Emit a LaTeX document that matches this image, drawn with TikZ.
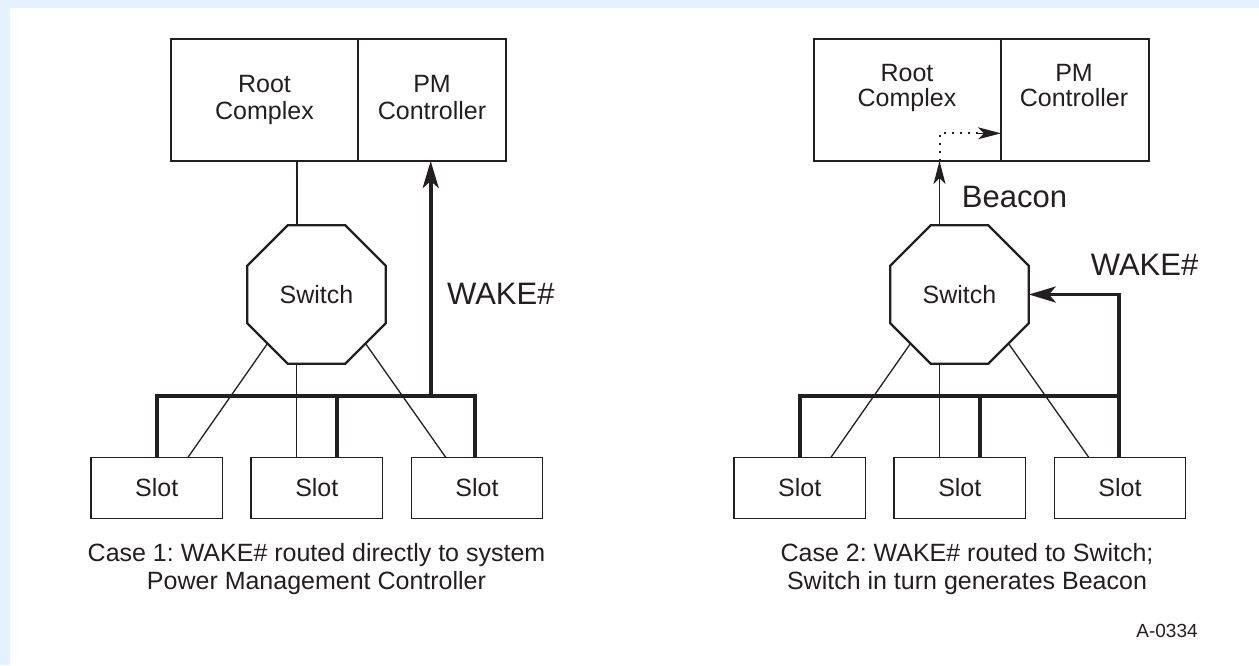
\documentclass[tikz,border=0pt]{standalone}
\usepackage{fontspec}
\setmainfont{Liberation Sans}
\frenchspacing
\usetikzlibrary{shapes.geometric,arrows.meta,calc}
\definecolor{bg}{RGB}{227,242,253}
\definecolor{ink}{RGB}{35,31,32}
\begin{document}
\begin{tikzpicture}[x=1pt,y=-1pt,
  box/.style={draw=ink,line width=1.5pt,inner sep=0pt,outer sep=0pt,font=\fontsize{25}{27}\selectfont,text=ink,align=center},
  slot/.style={box,minimum width=131.4pt,minimum height=60.6pt},
  sw/.style={regular polygon,regular polygon sides=8,draw=ink,line width=2.3pt,minimum size=150pt,inner sep=0pt,outer sep=0pt,font=\fontsize{25}{27}\selectfont,text=ink},
  thin/.style={draw=ink,line width=1.3pt},
  bus/.style={draw=ink,line width=3.6pt},
  dots/.style={draw=ink,line width=2pt,dash pattern=on 2pt off 6pt},
  lbl/.style={font=\fontsize{31}{33}\selectfont,text=ink,inner sep=0pt,anchor=west},
  txt/.style={font=\fontsize{25}{25}\selectfont,text=ink,inner sep=0pt,align=center},
  captext/.style={font=\fontsize{25}{27.6}\selectfont,text=ink,align=center,inner sep=0pt},
  tip/.style={-{Stealth[length=23pt,width=12pt,inset=6pt]}},
  bigtip/.style={-{Stealth[length=27pt,width=16pt,inset=7pt]}},
]
\useasboundingbox (0,0) rectangle (1259,665);
\fill[bg] (0,0) rectangle (1259,665);
\fill[white] (10,8) rectangle (1259,665);

\coordinate (busy) at (0,395.7);

% ---------- Case 1 ----------
\node[box,minimum width=187pt,minimum height=122pt] (rc1) at (264.5,100) {Root\\Complex};
\node[box,minimum width=148pt,minimum height=122pt] (pm1) at (432,100) {PM\\Controller\vphantom{p}};
\node[sw] (sw1) at (316.5,294.5) {Switch};
\node[slot] (s1) at (156.7,488) {Slot};
\node[slot] (s2) at (316.8,488) {Slot};
\node[slot] (s3) at (477,488) {Slot};

\draw[thin] ([xshift=-19.5pt]sw1.north) -- ([xshift=-19.5pt]sw1.north |- rc1.south);
\draw[thin] (sw1.225) -- ([xshift=31pt]s1.north);
\draw[thin] ([xshift=-20pt]sw1.south) -- ([xshift=-20pt]sw1.south |- s2.north);
\draw[thin] (sw1.315) -- ([xshift=-31pt]s3.north);

\draw[bus] (s1.north) -- (s1.north |- busy) -- ([xshift=-2pt]s3.north |- busy) -- ([xshift=-2pt]s3.north);
\draw[bus] ([xshift=20pt]s2.north) -- ([xshift=20pt]s2.north |- busy);
\draw[bus,bigtip] ([xshift=-1.3pt]pm1.south |- busy) -- ([xshift=-1.3pt]pm1.south);
\node[lbl] (wk1) at (447,294) {WAKE\#};

\node[captext] (cap1) at (316.5,569) {Case 1: WAKE\# routed directly to system\\Power Management Controller};

% ---------- Case 2 ----------
\node[box,minimum width=187pt,minimum height=122pt] (rc2) at (907.5,100) {};
\node[box,minimum width=148pt,minimum height=122pt] (pm2) at (1075,100) {};
\node[txt] (rc2t) at (907,88) {Root\\Complex};
\node[txt] (pm2t) at (1074,88) {PM\\Controller\vphantom{p}};
\node[sw] (sw2) at (959.5,294.5) {Switch};
\node[slot] (s4) at (799.7,488) {Slot};
\node[slot] (s5) at (959.8,488) {Slot};
\node[slot] (s6) at (1120,488) {Slot};

\coordinate (bc) at ([xshift=-20pt]sw2.north |- rc2.south);
\coordinate (bk) at (0,133.3);
\draw[thin,tip] ([xshift=-20pt]sw2.north) -- (bc);
\draw[dots] (bc) -- (bc |- bk) -- ([xshift=-22pt]pm2.west |- bk);
\draw[draw=ink,line width=1pt,tip] ([xshift=-24pt]pm2.west |- bk) -- (pm2.west |- bk);
\node[lbl] (bcn) at (961.7,196.5) {Beacon};

\draw[thin] (sw2.225) -- ([xshift=31pt]s4.north);
\draw[thin] ([xshift=-20pt]sw2.south) -- ([xshift=-20pt]sw2.south |- s5.north);
\draw[thin] (sw2.315) -- ([xshift=-31pt]s6.north);

\draw[bus] (s4.north) -- (s4.north |- busy) -- ([xshift=-1pt]s6.north |- busy);
\draw[bus] ([xshift=20pt]s5.north) -- ([xshift=20pt]s5.north |- busy);
\draw[bus,bigtip] ([xshift=-1pt]s6.north) -- ([xshift=-1pt]s6.north |- sw2.east) -- (sw2.east);
\node[lbl] (wk2) at (1090.7,264.5) {WAKE\#};

\node[captext] (cap2) at (967,569) {Case 2: WAKE\# routed to Switch;\\Switch in turn generates Beacon};

\node[font=\fontsize{19}{21}\selectfont,text=ink,inner sep=0pt] (fig) at (1167,631) {A-0334};
\end{tikzpicture}
\end{document}
